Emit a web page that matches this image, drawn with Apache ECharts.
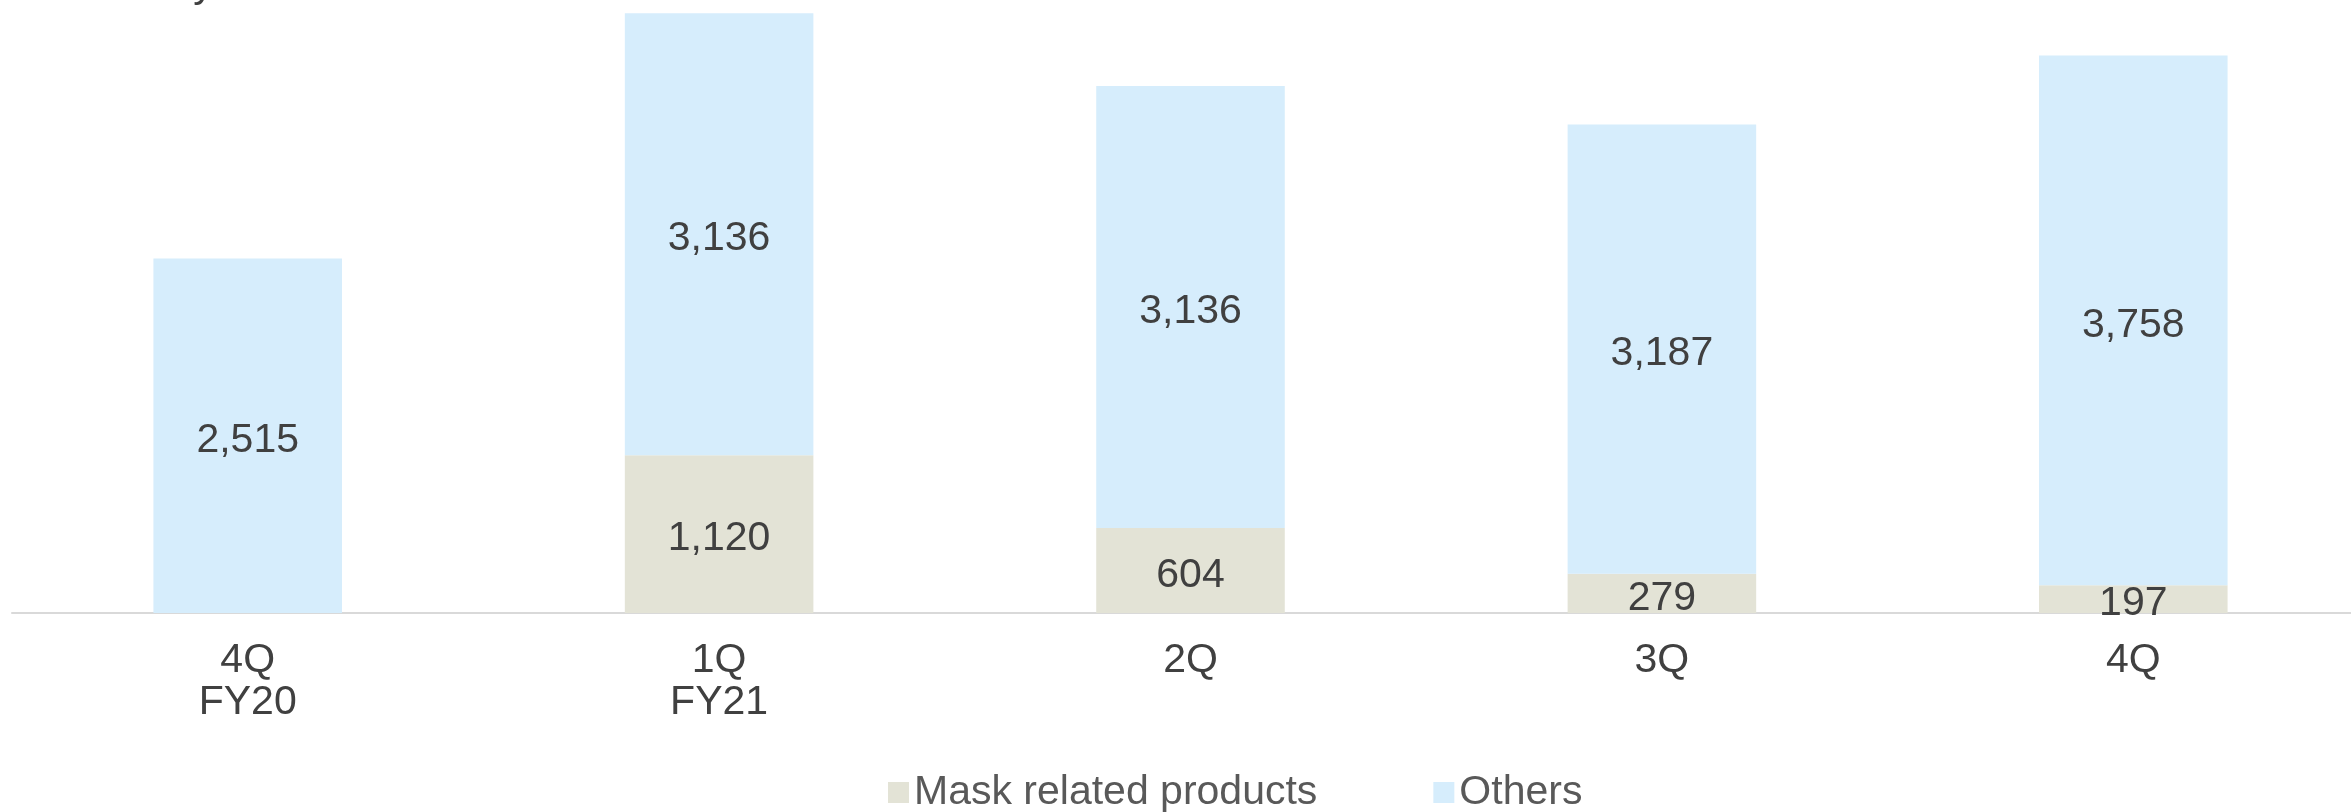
<!DOCTYPE html>
<html>
<head>
<meta charset="utf-8">
<script src="https://cdn.jsdelivr.net/npm/echarts@6/dist/echarts.min.js"></script>
<style>
html,body{margin:0;padding:0;background:#fff;overflow:hidden;}
#chart{width:2372px;height:812px;}
</style>
</head>
<body>
<div id="chart"></div>
<script>
const categories = ['4Q\nFY20', '1Q\nFY21', '2Q', '3Q', '4Q'];
const maskValues = [null, 1120, 604, 279, 197];
const otherValues = [2515, 3136, 3136, 3187, 3758];
const seriesNames = ['Mask related products', 'Others'];
const unitText = 'Unit: million yen';

const FONT = 'Liberation Sans, Arial, sans-serif';
const chart = echarts.init(document.getElementById('chart'));
const fmt = p => (p.value == null ? '' : Number(p.value).toLocaleString('en-US'));
const labelStyle = {
  show: true, position: 'inside', formatter: fmt, offset: [0, 5],
  color: '#404040', fontSize: 41, fontFamily: FONT
};
chart.setOption({
  animation: false,
  backgroundColor: '#ffffff',
  textStyle: { fontFamily: FONT },
  graphic: [{
    type: 'text', left: -30, top: -35,
    style: { text: unitText, fontSize: 41, fill: '#404040', fontFamily: FONT }
  }],
  legend: {
    data: seriesNames,
    left: 888, top: 772,
    itemWidth: 21, itemHeight: 21, itemGap: 116, padding: 0,
    icon: 'rect',
    textStyle: { fontSize: 41, color: '#595959' }
  },
  grid: { left: 12, width: 2357, top: 7, height: 606 },
  xAxis: {
    type: 'category', data: categories,
    axisLine: { show: true, lineStyle: { color: '#D9D9D9', width: 2 } },
    axisTick: { show: false },
    axisLabel: { color: '#404040', fontSize: 41, lineHeight: 42, margin: 27, interval: 0 }
  },
  yAxis: {
    type: 'value', min: 0, max: 4300, show: false,
    splitLine: { show: false }
  },
  series: [
    {
      name: seriesNames[0], type: 'bar', stack: 'total', data: maskValues,
      barWidth: '40%', itemStyle: { color: '#E3E3D6' }, label: labelStyle
    },
    {
      name: seriesNames[1], type: 'bar', stack: 'total', data: otherValues,
      barWidth: '40%', itemStyle: { color: '#D6EDFC' }, label: labelStyle
    }
  ]
});
</script>
</body>
</html>
